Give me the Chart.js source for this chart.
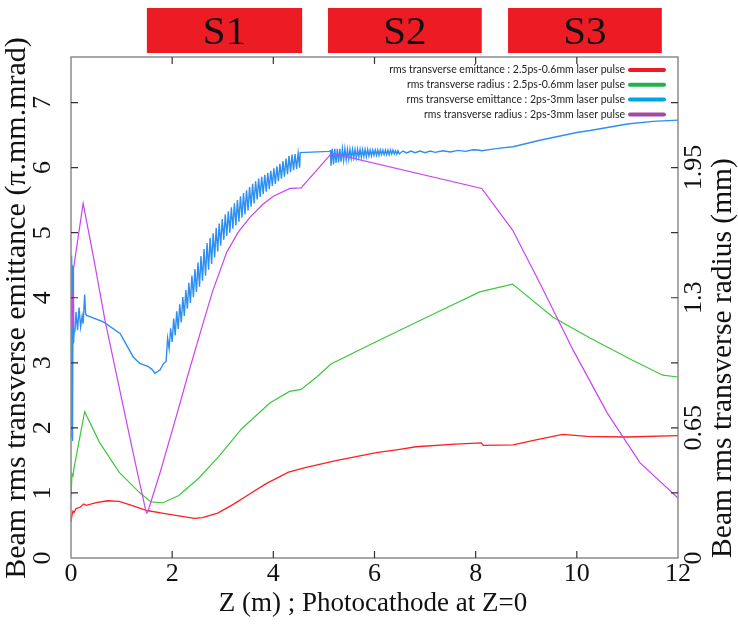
<!DOCTYPE html>
<html><head><meta charset="utf-8">
<script src="https://cdn.jsdelivr.net/npm/chart.js@4/dist/chart.umd.min.js"></script>
<style>html,body{margin:0;background:#fff}canvas{display:block}</style>
</head><body>
<canvas id="c" width="738" height="624"></canvas>
<script>
// Z positions (m) and values
// emittance series -> left axis (pi.mm.mrad), radius series -> right axis (mm)
const zRed = [0,0.02,0.04,0.06,0.1,0.18,0.25,0.3,0.5,0.72,0.95,1.2,1.5,1.8,2.1,2.44,2.6,2.9,3.2,3.46,3.85,4.3,4.63,5.26,6.04,6.5,6.82,7.6,8.11,8.15,8.74,9.17,9.72,10.2,10.97,12];
const emitRed = [0.55,0.66,0.72,0.7,0.76,0.78,0.83,0.81,0.85,0.88,0.87,0.81,0.73,0.69,0.65,0.61,0.62,0.69,0.82,0.95,1.14,1.32,1.39,1.5,1.62,1.67,1.71,1.75,1.77,1.73,1.74,1.81,1.9,1.87,1.86,1.88];

const zGreen = [0,0.02,0.04,0.06,0.27,0.56,0.95,1.35,1.58,1.82,2.13,2.52,2.91,3.38,3.93,4.32,4.55,4.87,5.14,6.0,7.3,8.08,8.73,9.53,10.26,11.1,11.7,12];
const radGreen = [0.302,0.42,0.41,0.45,0.731,0.579,0.429,0.328,0.28,0.276,0.312,0.397,0.504,0.647,0.774,0.832,0.842,0.907,0.969,1.076,1.235,1.329,1.368,1.203,1.099,0.988,0.913,0.904];

const zBlue = [
  0,0.01,0.015,0.02,0.025,0.03,0.035,0.04,0.05,0.06,0.08,0.1,0.13,0.16,0.19,0.22,0.24,0.27,0.29,0.31,0.64,0.97,1.23,1.36,1.53,1.6,1.66,1.72,1.76,1.83,
  1.88,1.91,1.94,1.97,2.0,2.03,2.06,2.09,2.12,2.15,2.18,2.21,2.24,2.27,2.3,2.33,2.36,2.39,2.42,2.45,2.48,2.51,2.54,2.57,2.6,2.63,2.66,2.69,2.72,2.75,
  2.78,2.81,2.84,2.87,2.9,2.93,2.96,2.99,3.02,3.05,3.08,3.11,3.14,3.17,3.2,3.23,3.26,3.29,3.32,3.35,3.38,3.41,3.44,3.47,3.5,3.53,3.56,3.59,3.62,3.65,
  3.68,3.71,3.74,3.77,3.8,3.83,3.86,3.89,3.92,3.95,3.98,4.01,4.04,4.07,4.1,4.13,4.16,4.19,4.22,4.25,4.28,4.31,4.34,4.37,4.4,4.43,4.46,4.49,4.52,4.53,
  5.1,5.13,
  5.14,5.165,5.19,5.215,5.24,5.265,5.29,5.315,5.34,5.365,5.39,5.415,5.44,5.465,5.49,5.515,5.54,5.565,5.59,5.615,5.64,5.665,5.69,5.715,5.74,5.765,5.79,5.815,
  5.84,5.865,5.89,5.915,5.94,5.965,5.99,6.015,6.04,6.065,6.09,6.115,6.14,6.165,6.19,6.215,6.24,6.265,6.29,6.315,6.34,6.365,6.39,6.415,6.44,6.465,6.49,
  6.56,6.64,6.72,6.8,6.9,7.0,7.1,7.2,7.35,7.5,7.65,7.8,7.95,8.05,8.12,8.3,8.48,8.74,9.27,10.0,10.26,11.0,11.5,12
];
const emitBlue = [
  3.6,4.65,1.85,4.5,1.8,4.3,2.0,3.9,3.3,3.45,3.5,3.78,3.5,3.85,3.55,3.72,3.6,4.05,3.75,3.73,3.63,3.45,3.09,2.99,2.94,2.9,2.84,2.87,2.89,2.99,
  3.02,3.38,3.22,3.53,3.32,3.68,3.42,3.79,3.52,3.9,3.62,4.01,3.72,4.12,3.83,4.23,3.92,4.34,4.01,4.44,4.09,4.54,4.17,4.64,4.26,4.75,4.34,4.84,4.43,4.92,
  4.52,4.99,4.62,5.07,4.71,5.14,4.8,5.21,4.89,5.28,4.95,5.33,5.0,5.39,5.06,5.45,5.11,5.5,5.17,5.56,5.23,5.61,5.28,5.65,5.34,5.7,5.4,5.75,5.45,5.79,
  5.51,5.83,5.55,5.86,5.59,5.89,5.63,5.92,5.67,5.95,5.72,5.99,5.75,6.02,5.79,6.06,5.83,6.1,5.86,6.14,5.9,6.18,5.93,6.2,5.96,6.21,5.98,6.22,6.0,6.23,
  6.25,6.26,
  6.03,6.29,6.05,6.29,6.07,6.29,6.08,6.29,6.09,6.29,6.11,6.29,6.12,6.28,6.13,6.28,6.14,6.28,6.15,6.28,6.15,6.28,6.16,6.28,6.16,6.28,6.17,6.28,
  6.17,6.28,6.18,6.27,6.18,6.27,6.19,6.27,6.19,6.27,6.19,6.27,6.2,6.27,6.2,6.27,6.2,6.27,6.2,6.27,6.21,6.27,6.21,6.26,6.21,6.26,6.21,
  6.255,6.225,6.255,6.23,6.255,6.23,6.255,6.235,6.26,6.24,6.265,6.25,6.275,6.27,6.26,6.28,6.3,6.32,6.42,6.54,6.57,6.67,6.71,6.73
];

const zPurple = [0,0.01,0.02,0.03,0.04,0.05,0.24,0.45,0.67,1.0,1.23,1.48,1.5,1.53,1.76,2.09,2.3,2.55,2.8,3.08,3.3,3.54,3.8,4.0,4.33,4.55,5.12,5.15,8.12,8.73,9.27,9.93,10.6,11.25,12];
const radPurple = [1.17,1.333,1.154,1.316,1.17,1.446,1.771,1.495,1.19,0.796,0.523,0.234,0.224,0.24,0.426,0.715,0.904,1.121,1.333,1.528,1.625,1.703,1.768,1.807,1.846,1.849,2.012,2.022,1.846,1.638,1.372,1.037,0.725,0.475,0.299];

const legendLabels = [
  'rms transverse emittance : 2.5ps-0.6mm laser pulse',
  'rms transverse radius : 2.5ps-0.6mm laser pulse',
  'rms transverse emittance : 2ps-3mm laser pulse',
  'rms transverse radius : 2ps-3mm laser pulse'
];
const lineColors = ['#ff1f1f', '#3cc83c', '#2e8ff2', '#c844f0'];
const legendColors = ['#ed1c24', '#22b14c', '#00a2e8', '#a349a4'];

// sections drawn above the plot
const sectionNames = ['S1', 'S2', 'S3'];
const sectionStart = [1.5, 5.08, 8.64];
const sectionEnd = [4.57, 8.12, 11.68];

const toPts = (xs, ys) => xs.map((x, i) => ({ x, y: ys[i] }));
const mk = (i, xs, ys, axis, w) => ({
  label: legendLabels[i], data: toPts(xs, ys), yAxisID: axis,
  showLine: true, borderColor: lineColors[i], borderWidth: w,
  pointRadius: 0, tension: 0, fill: false
});

const serif = '"Liberation Serif", "Times New Roman", serif';

const framePlugin = {
  id: 'frame',
  afterDraw(chart) {
    const { ctx, chartArea: a, scales: { x, y, y1 } } = chart;
    ctx.save();
    // border box
    ctx.strokeStyle = '#8c8c8c'; ctx.lineWidth = 1.5;
    ctx.strokeRect(a.left, a.top, a.right - a.left, a.bottom - a.top);
    // inward tick marks (mirrored)
    ctx.strokeStyle = '#333'; ctx.lineWidth = 1.2;
    ctx.beginPath();
    y.ticks.forEach(t => {
      if (t.value <= 0 || t.value >= 7.7 || t.value % 1) return;
      const py = y.getPixelForValue(t.value);
      ctx.moveTo(a.left, py); ctx.lineTo(a.left + 7, py);
      ctx.moveTo(a.right - 7, py); ctx.lineTo(a.right, py);
    });
    x.ticks.forEach(t => {
      if (t.value <= 0 || t.value >= 12) return;
      const px = x.getPixelForValue(t.value);
      ctx.moveTo(px, a.bottom); ctx.lineTo(px, a.bottom - 7);
      ctx.moveTo(px, a.top); ctx.lineTo(px, a.top + 7);
    });
    ctx.stroke();

    // tick labels
    ctx.fillStyle = '#111';
    ctx.font = '26px ' + serif;
    ctx.textAlign = 'center'; ctx.textBaseline = 'top';
    x.ticks.forEach(t => ctx.fillText(String(t.value), x.getPixelForValue(t.value), a.bottom + 3));
    ctx.textBaseline = 'middle';
    const rot = (txt, px, py) => {
      ctx.save(); ctx.translate(px, py); ctx.rotate(-Math.PI / 2);
      ctx.fillText(txt, 0, 0); ctx.restore();
    };
    y.ticks.forEach(t => {
      if (t.value % 1) return;
      rot(String(t.value), 43, y.getPixelForValue(t.value));
    });
    y1.ticks.forEach(t => {
      const v = Number(t.value.toFixed(3));
      if (Math.abs(v / 0.65 - Math.round(v / 0.65)) > 1e-6) return;
      rot(String(v), 694, y1.getPixelForValue(v));
    });

    // axis titles
    ctx.font = '30px ' + serif;
    rot('Beam rms transverse emittance (\u03c0.mm.mrad)', 17, 308);
    ctx.font = '29.5px ' + serif;
    rot('Beam rms transverse radius (mm)', 723, 358);
    ctx.font = '27px ' + serif;
    ctx.fillText('Z (m) ; Photocathode at Z=0', 373, 604);

    // legend
    ctx.font = '10.5px Lato, "Open Sans", sans-serif';
    ctx.textAlign = 'right';
    legendLabels.forEach((txt, i) => {
      const ly = 70 + i * 14.8;
      ctx.fillStyle = '#222';
      ctx.fillText(txt, 625, ly);
      ctx.strokeStyle = legendColors[i]; ctx.lineWidth = 4; ctx.lineCap = 'round';
      ctx.beginPath(); ctx.moveTo(630, ly); ctx.lineTo(664, ly); ctx.stroke();
    });

    // section boxes
    ctx.textAlign = 'center';
    ctx.font = '41px ' + serif;
    sectionNames.forEach((name, i) => {
      const x0 = x.getPixelForValue(sectionStart[i]);
      const x1 = x.getPixelForValue(sectionEnd[i]);
      ctx.fillStyle = '#ed1c24';
      ctx.fillRect(x0, 8, x1 - x0, 45);
      ctx.fillStyle = '#111';
      ctx.fillText(name, (x0 + x1) / 2, 33);
    });
    ctx.restore();
  }
};

new Chart(document.getElementById('c'), {
  type: 'scatter',
  data: {
    datasets: [
      mk(3, zPurple, radPurple, 'y1', 1.2),
      mk(2, zBlue, emitBlue, 'y', 1.4),
      mk(1, zGreen, radGreen, 'y1', 1.2),
      mk(0, zRed, emitRed, 'y', 1.3)
    ]
  },
  options: {
    responsive: false, animation: false, devicePixelRatio: 1,
    layout: { padding: { left: 71, right: 60, top: 57, bottom: 66 } },
    plugins: { legend: { display: false }, tooltip: { enabled: false } },
    scales: {
      x: { type: 'linear', min: 0, max: 12, ticks: { stepSize: 2, display: false },
           grid: { display: false }, border: { display: false }, afterFit(s) { s.height = 0; } },
      y: { min: 0, max: 7.7, ticks: { stepSize: 1, display: false },
           grid: { display: false }, border: { display: false }, afterFit(s) { s.width = 0; } },
      y1: { position: 'right', min: 0, max: 2.5025, ticks: { stepSize: 0.65, display: false },
            grid: { display: false }, border: { display: false }, afterFit(s) { s.width = 0; } }
    }
  },
  plugins: [framePlugin]
});
</script>
</body></html>
